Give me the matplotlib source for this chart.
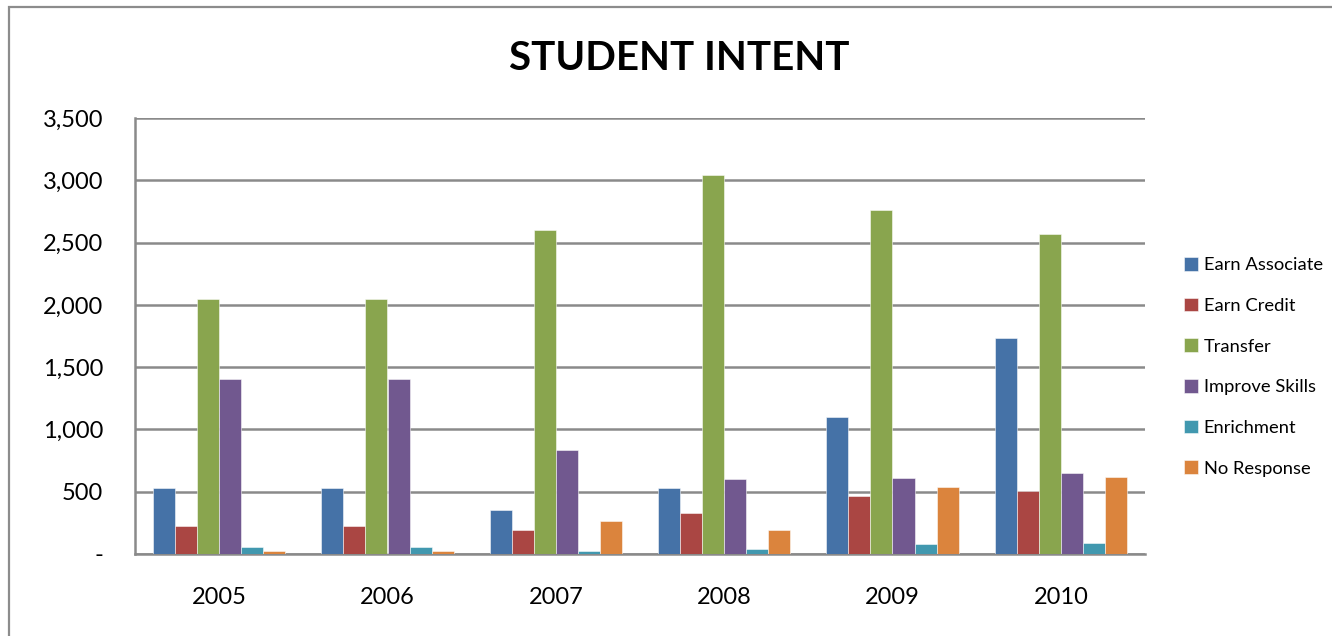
import matplotlib
matplotlib.use("Agg")
import matplotlib.pyplot as plt
import numpy as np
from matplotlib.patches import Rectangle

years = ["2005", "2006", "2007", "2008", "2009", "2010"]
series_names = ["Earn Associate", "Earn Credit", "Transfer", "Improve Skills", "Enrichment", "No Response"]
earn_associate = [533, 533, 350, 528, 1101, 1734]
earn_credit = [221, 221, 190, 330, 469, 502]
transfer = [2048, 2048, 2598, 3040, 2760, 2571]
improve_skills = [1405, 1405, 832, 602, 608, 651]
enrichment = [56, 56, 27, 40, 83, 91]
no_response = [27, 27, 262, 192, 541, 622]
colors = ["#4572A7", "#AA4643", "#89A54E", "#71588F", "#4198AF", "#DB843D"]

series = [earn_associate, earn_credit, transfer, improve_skills, enrichment, no_response]

plt.rcParams['font.family'] = ['Lato', 'DejaVu Sans']

W, H = 1332, 636
fig = plt.figure(figsize=(W / 100, H / 100), dpi=100)
fig.patch.set_facecolor("white")

# outer chart border
fig.patches.append(Rectangle((9 / W, -0.2), 2.0, 1.2 - 7 / H, transform=fig.transFigure,
                             fill=False, edgecolor="#8C8C8C", linewidth=1.6, zorder=0))

ax = fig.add_axes([135 / W, (H - 554) / H, 1010 / W, 436 / H])
x = np.arange(len(years))
w = 0.131
for i, (vals, name, c) in enumerate(zip(series, series_names, colors)):
    ax.bar(x + (i - 2.5) * w, vals, width=w, color=c, label=name,
           edgecolor=(1, 1, 1, 0.6), linewidth=0.6, zorder=3)

ax.set_xlim(-0.5, 5.5)
ax.set_ylim(0, 3500)
ticks = np.arange(0, 3501, 500)
ax.set_yticks(ticks)
ax.set_yticklabels(["-" if t == 0 else f"{t:,}" for t in ticks])
ax.set_xticks(x)
ax.set_xticklabels(years)
ax.tick_params(axis="both", length=0, labelsize=17, colors="black")
ax.tick_params(axis="y", pad=23)
ax.tick_params(axis="x", pad=24)
ax.yaxis.grid(True, color="#8A8A8A", linewidth=1.8, zorder=0)
ax.set_axisbelow(True)
for s in ["top", "right"]:
    ax.spines[s].set_visible(False)
for s in ["left", "bottom"]:
    ax.spines[s].set_color("#8A8A8A")
    ax.spines[s].set_linewidth(1.8)

fig.text(679 / W, 1 - 59 / H, "STUDENT INTENT", ha="center", va="center",
         fontsize=29, fontweight="bold", color="black")

handles, labels = ax.get_legend_handles_labels()
leg = fig.legend(handles, labels, loc="upper left", bbox_to_anchor=(1184 / W, 1 - 257 / H),
                 frameon=False, fontsize=13.2, handlelength=0.78, handleheight=0.78,
                 handletextpad=0.3, labelspacing=1.33, borderaxespad=0, borderpad=0)

fig.savefig("out.png", dpi=100, facecolor="white")
